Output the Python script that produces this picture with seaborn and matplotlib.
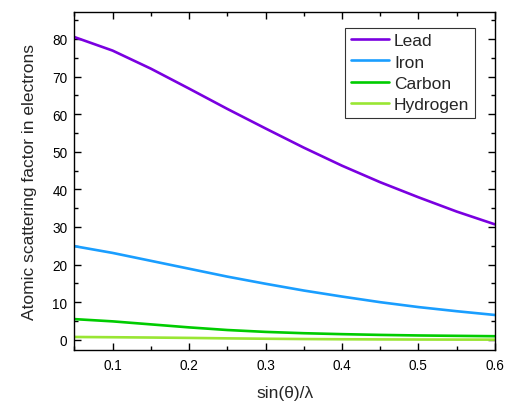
import numpy as np
import pandas as pd
import matplotlib
matplotlib.use("Agg")
import matplotlib.pyplot as plt
from matplotlib.ticker import MultipleLocator
import seaborn as sns

# sin(theta)/lambda sample points
s = [0.05, 0.10, 0.15, 0.20, 0.25, 0.30, 0.35, 0.40, 0.45, 0.50, 0.55, 0.60]

# atomic scattering factors (electrons)
lead = [80.5, 76.9, 72.1, 66.8, 61.4, 56.2, 51.1, 46.3, 41.9, 37.9, 34.1, 30.7]
iron = [24.9, 23.1, 21.0, 18.9, 16.8, 14.9, 13.1, 11.5, 10.0, 8.7, 7.6, 6.6]
carbon = [5.5, 4.9, 4.1, 3.3, 2.6, 2.1, 1.75, 1.5, 1.3, 1.15, 1.05, 0.95]
hydrogen = [0.75, 0.68, 0.6, 0.5, 0.38, 0.28, 0.2, 0.14, 0.1, 0.07, 0.05, 0.04]

elements = ["Lead", "Iron", "Carbon", "Hydrogen"]
colors = ["#7A00E0", "#1A9EFF", "#00CC00", "#99E633"]

df = pd.DataFrame({
    "s": s * 4,
    "f": lead + iron + carbon + hydrogen,
    "element": sum([[e] * len(s) for e in elements], []),
})

sns.set_style("ticks")
plt.rcParams["font.family"] = ["Liberation Sans", "DejaVu Sans"]

fig = plt.figure(figsize=(5.06, 4.02), dpi=100)
ax = fig.add_axes([0.147, 0.127, 0.831, 0.841])

sns.lineplot(data=df, x="s", y="f", hue="element", hue_order=elements,
             palette=colors, linewidth=1.9, ax=ax)

ax.set_xlim(0.05, 0.6)
ax.set_ylim(-2.7, 87.2)
ax.xaxis.set_major_locator(MultipleLocator(0.1))
ax.xaxis.set_minor_locator(MultipleLocator(0.05))
ax.yaxis.set_major_locator(MultipleLocator(10))
ax.yaxis.set_minor_locator(MultipleLocator(5))
ax.tick_params(which="both", direction="in", top=True, right=True,
               labelsize=9.8, colors="black", width=1)
ax.tick_params(which="major", length=5)
ax.tick_params(which="minor", length=3)
ax.tick_params(axis="x", which="major", pad=6)
ax.tick_params(axis="y", which="major", pad=5)
for sp in ax.spines.values():
    sp.set_linewidth(1.0)
    sp.set_color("black")

ax.set_xlabel("sin(θ)/λ", fontsize=12.5, labelpad=9)
ax.set_ylabel("Atomic scattering factor in electrons", fontsize=12.5, labelpad=11)

leg = ax.legend(loc="upper right", bbox_to_anchor=(0.952, 0.953), fontsize=12.5,
                frameon=True, fancybox=False, edgecolor="black",
                handlelength=2.2, handletextpad=0.3, labelspacing=0.36,
                borderpad=0.3, borderaxespad=0)
leg.get_frame().set_linewidth(0.8)

fig.savefig("out.png", dpi=100)
